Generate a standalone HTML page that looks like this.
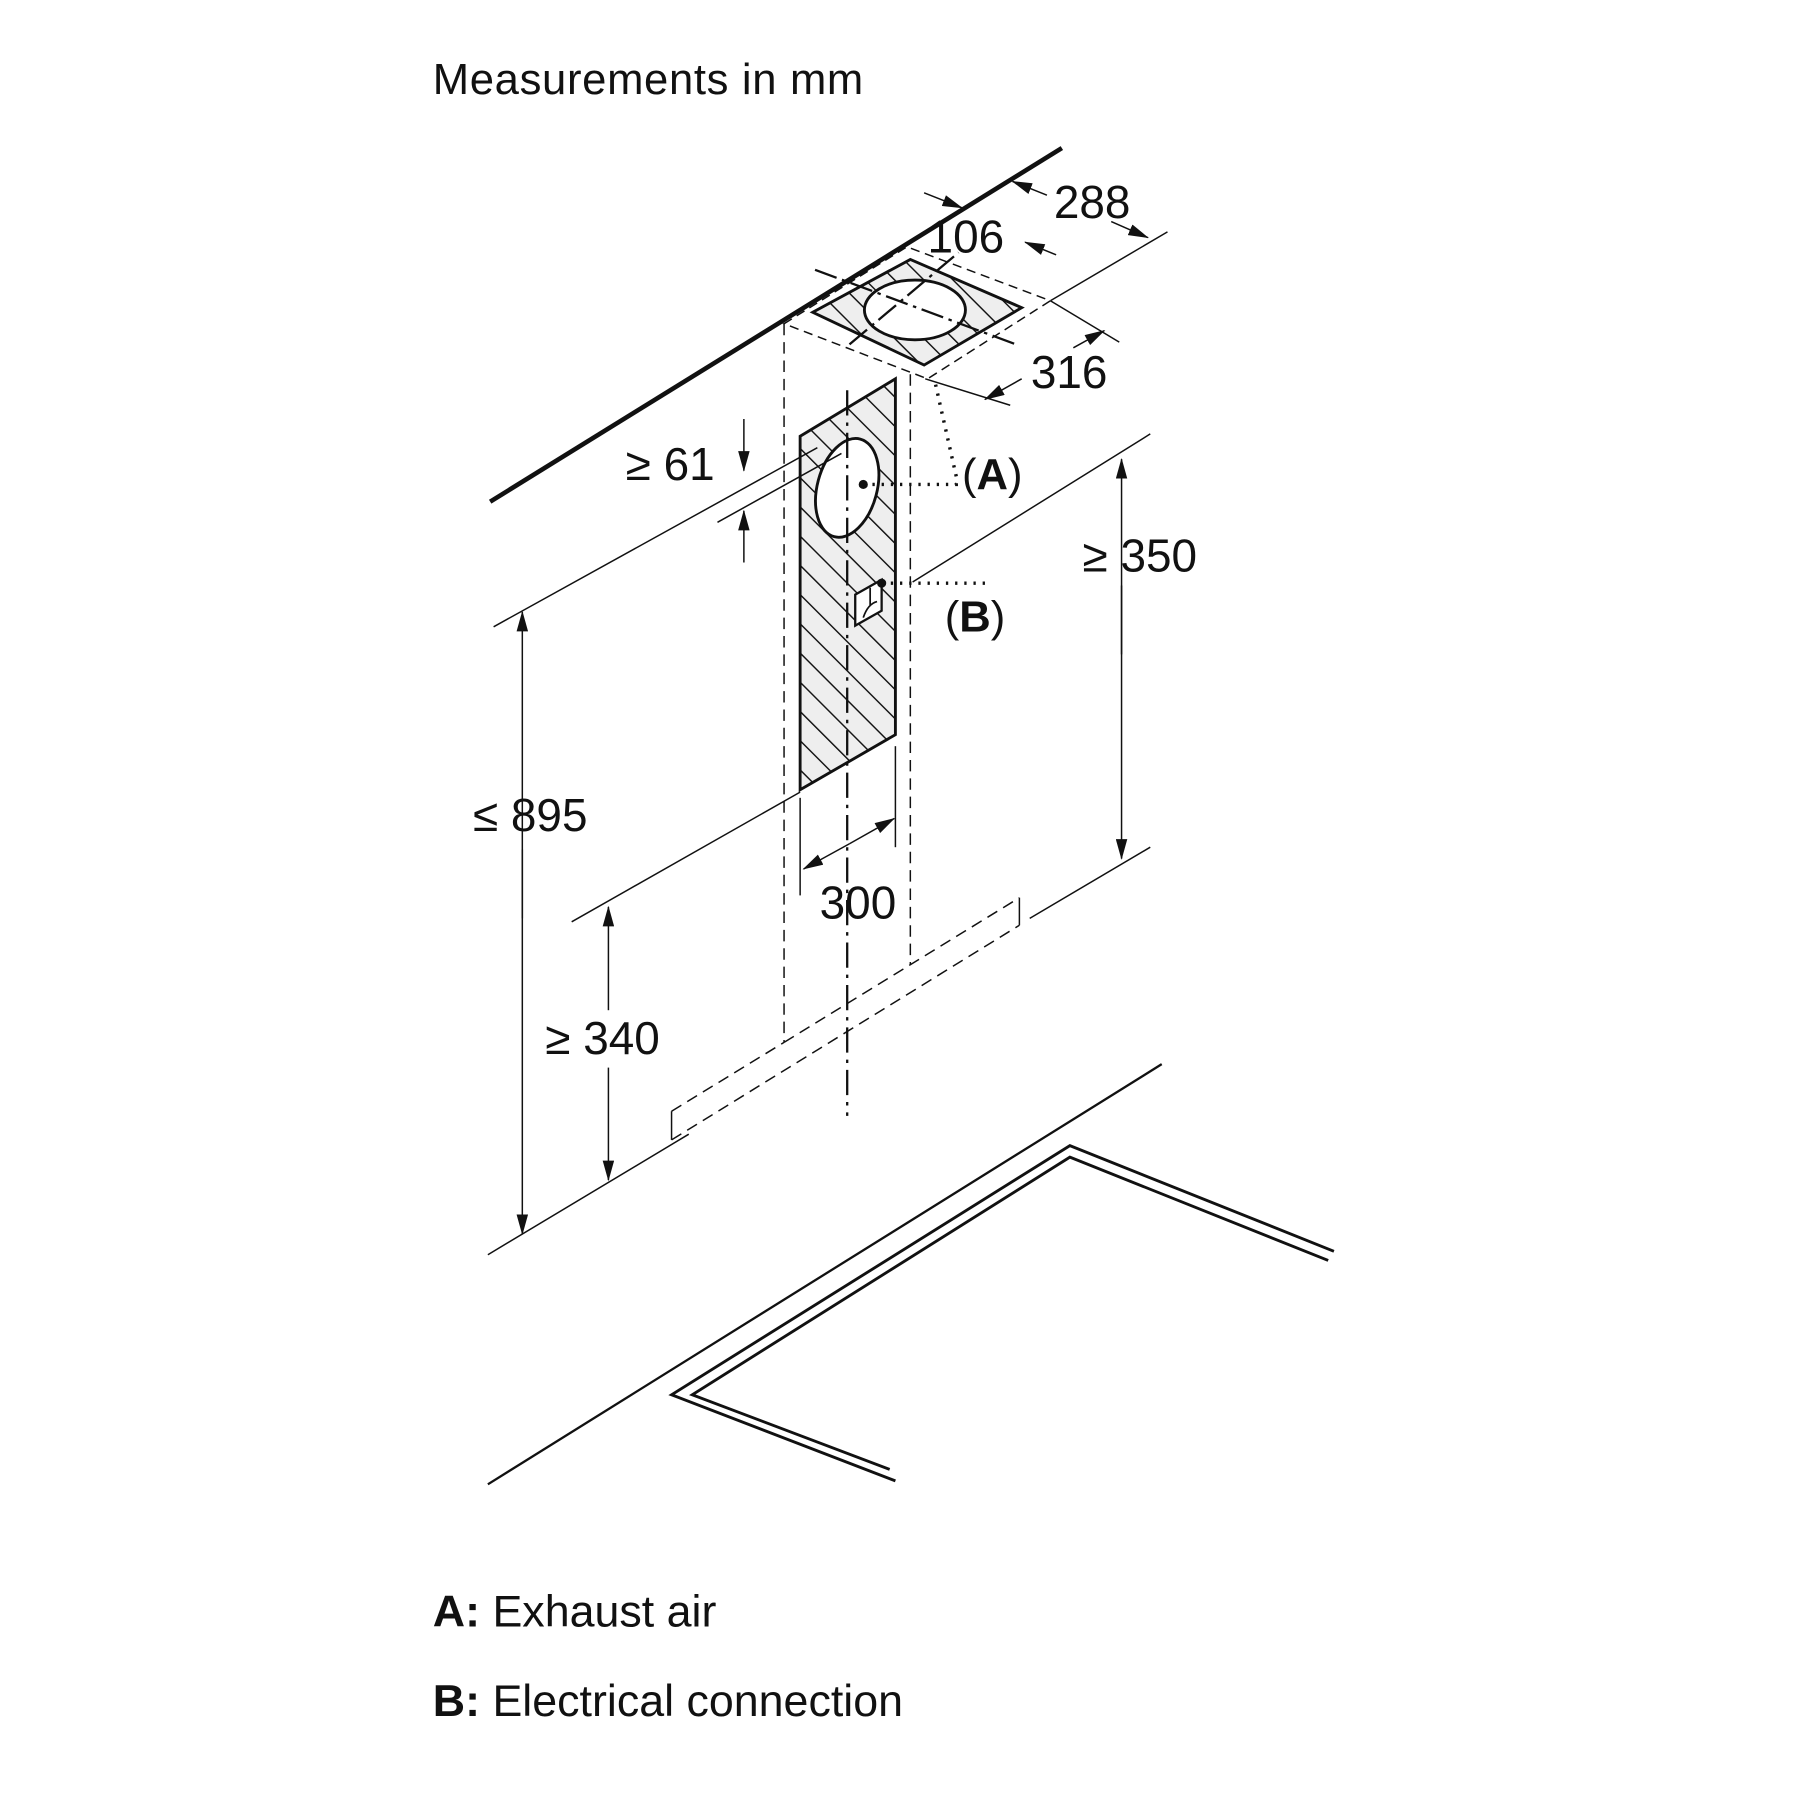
<!DOCTYPE html>
<html><head><meta charset="utf-8"><style>
html,body{margin:0;padding:0;background:#fff}
svg{display:block}
text{font-family:"Liberation Sans",Arial,sans-serif;fill:#111}
</style></head><body>
<svg width="1800" height="1800" viewBox="0 0 1568 1568" xmlns="http://www.w3.org/2000/svg">
<defs>
<pattern id="h" patternUnits="userSpaceOnUse" width="18" height="18" patternTransform="rotate(-45)">
<rect width="18" height="18" fill="#eee"/><line x1="0" y1="0" x2="0" y2="18" stroke="#111" stroke-width="2.5"/>
</pattern>
<marker id="a" markerWidth="18" markerHeight="10" refX="17" refY="5" orient="auto" markerUnits="userSpaceOnUse" viewBox="0 0 18 10"><path d="M0,0L18,5L0,10z" fill="#111"/></marker>
</defs>
<g stroke="#111" fill="none">
<text x="377" y="82" font-size="38" stroke="none" textLength="375">Measurements in mm</text>
<line x1="427" y1="437" x2="925" y2="129" stroke-width="4"/>
<polygon points="708,272 793,226 890,268 805,318" fill="url(#h)" stroke-width="2.5"/>
<ellipse cx="797" cy="270" rx="44" ry="26" fill="#fff" stroke-width="2.5"/>
<polygon points="683,282 790,215 915,262 808,330" stroke-width="1.3" stroke-dasharray="8,5"/>
<line x1="710" y1="235" x2="885" y2="300" stroke-width="2" stroke-dasharray="20,5,3,5"/>
<line x1="740" y1="300" x2="835" y2="220" stroke-width="2" stroke-dasharray="20,5,3,5"/>
<line x1="683" y1="282" x2="683" y2="908" stroke-width="1.3" stroke-dasharray="10,6"/>
<line x1="793" y1="326" x2="793" y2="840" stroke-width="1.3" stroke-dasharray="10,6"/>
<line x1="683" y1="908" x2="888" y2="782" stroke-width="1.3" stroke-dasharray="10,6"/>
<line x1="585" y1="968" x2="683" y2="908" stroke-width="1.3" stroke-dasharray="10,6"/>
<line x1="585" y1="993" x2="888" y2="806" stroke-width="1.3" stroke-dasharray="10,6"/>
<line x1="585" y1="968" x2="585" y2="993" stroke-width="1.3"/>
<line x1="888" y1="782" x2="888" y2="806" stroke-width="1.3"/>
<polygon points="697,380 780,330 780,640 697,688" fill="url(#h)" stroke-width="2.5"/>
<ellipse cx="738" cy="425" rx="26" ry="44" transform="rotate(15 738 425)" fill="#fff" stroke-width="2.5"/>
<line x1="738" y1="340" x2="738" y2="972" stroke-width="2" stroke-dasharray="22,6,3,6"/>
<polygon points="745,518 768,505 768,532 745,545" fill="#fff" stroke-width="2"/>
<path d="M752,538 q4,-12 12,-14 M758,512 v16" stroke-width="1.5"/>
<circle cx="752" cy="422" r="3.5" fill="#111"/>
<circle cx="768" cy="508" r="3.5" fill="#111"/>
<polyline points="815,335 833,415 833,422 752,422" stroke-width="3" stroke-dasharray="2,6"/>
<line x1="768" y1="508" x2="860" y2="508" stroke-width="3" stroke-dasharray="2,6"/>
<text x="838" y="426" font-size="38" stroke="none">(<tspan font-weight="bold">A</tspan>)</text>
<text x="823" y="550" font-size="38" stroke="none">(<tspan font-weight="bold">B</tspan>)</text>
<line x1="795" y1="507" x2="1002" y2="378" stroke-width="1.3"/>
<line x1="897" y1="800" x2="1002" y2="738" stroke-width="1.3"/>
<line x1="977" y1="570" x2="977" y2="400" stroke-width="1.3" marker-end="url(#a)"/>
<line x1="977" y1="510" x2="977" y2="748" stroke-width="1.3" marker-end="url(#a)"/>
<text x="943" y="498" font-size="40" stroke="none">≥ 350</text>
<line x1="430" y1="546" x2="712" y2="390" stroke-width="1.3"/>
<line x1="625" y1="455" x2="733" y2="395" stroke-width="1.3"/>
<line x1="648" y1="365" x2="648" y2="410" stroke-width="1.3" marker-end="url(#a)"/>
<line x1="648" y1="490" x2="648" y2="445" stroke-width="1.3" marker-end="url(#a)"/>
<text x="545" y="418" font-size="40" stroke="none">≥ 61</text>
<line x1="455" y1="800" x2="455" y2="533" stroke-width="1.3" marker-end="url(#a)"/>
<line x1="455" y1="740" x2="455" y2="1075" stroke-width="1.3" marker-end="url(#a)"/>
<text x="412" y="724" font-size="40" stroke="none">≤ 895</text>
<line x1="425" y1="1093" x2="600" y2="988" stroke-width="1.3"/>
<line x1="498" y1="803" x2="697" y2="690" stroke-width="1.3"/>
<line x1="530" y1="880" x2="530" y2="790" stroke-width="1.3" marker-end="url(#a)"/>
<line x1="530" y1="930" x2="530" y2="1028" stroke-width="1.3" marker-end="url(#a)"/>
<text x="475" y="918" font-size="40" stroke="none">≥ 340</text>
<line x1="697" y1="695" x2="697" y2="780" stroke-width="1.3"/>
<line x1="780" y1="650" x2="780" y2="738" stroke-width="1.3"/>
<line x1="740" y1="735" x2="700" y2="757" stroke-width="1.3" marker-end="url(#a)"/>
<line x1="740" y1="735" x2="779" y2="713" stroke-width="1.3" marker-end="url(#a)"/>
<text x="714" y="800" font-size="40" stroke="none">300</text>
<line x1="915" y1="262" x2="1017" y2="202" stroke-width="1.3"/>
<line x1="915" y1="262" x2="975" y2="298" stroke-width="1.3"/>
<line x1="806" y1="330" x2="880" y2="353" stroke-width="1.3"/>
<line x1="805" y1="168" x2="838" y2="181" stroke-width="1.3" marker-end="url(#a)"/>
<line x1="912" y1="170" x2="882" y2="158" stroke-width="1.3" marker-end="url(#a)"/>
<line x1="968" y1="193" x2="1000" y2="207" stroke-width="1.3" marker-end="url(#a)"/>
<line x1="920" y1="222" x2="893" y2="211" stroke-width="1.3" marker-end="url(#a)"/>
<line x1="935" y1="303" x2="962" y2="288" stroke-width="1.3" marker-end="url(#a)"/>
<line x1="890" y1="330" x2="858" y2="348" stroke-width="1.3" marker-end="url(#a)"/>
<text x="918" y="190" font-size="40" stroke="none">288</text>
<text x="808" y="220" font-size="40" stroke="none">106</text>
<text x="898" y="338" font-size="40" stroke="none">316</text>
<line x1="425" y1="1293" x2="1012" y2="927" stroke-width="2"/>
<polyline points="780,1290 585,1215 932,998 1162,1090" stroke-width="2.5"/>
<polyline points="775,1280 603,1215 932,1008 1157,1098" stroke-width="2.5"/>
</g>
<text x="377" y="1417" font-size="39"><tspan font-weight="bold">A:</tspan> Exhaust air</text>
<text x="377" y="1495" font-size="39"><tspan font-weight="bold">B:</tspan> Electrical connection</text>
</svg>
</body></html>
